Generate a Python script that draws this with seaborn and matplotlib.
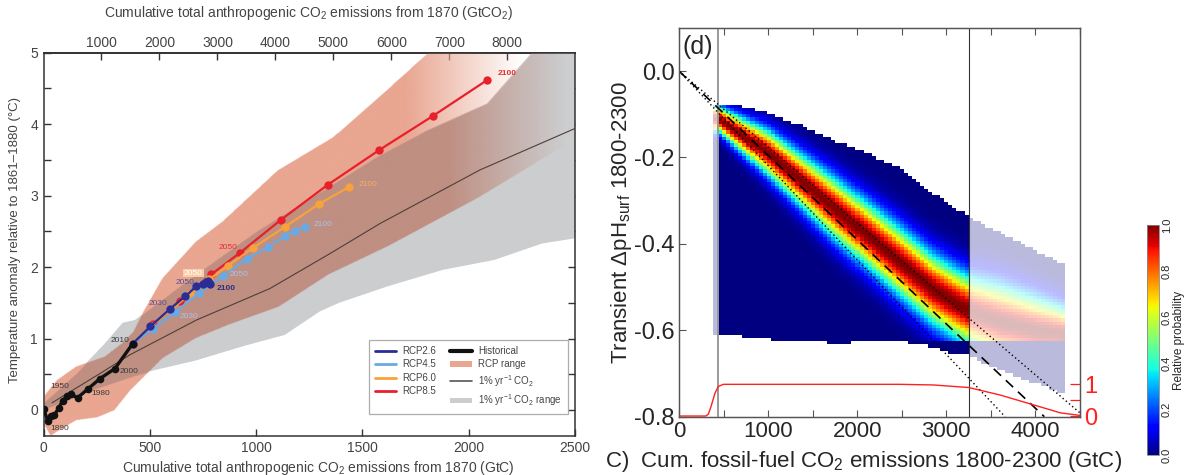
import numpy as np
import matplotlib
matplotlib.use("Agg")
import matplotlib.pyplot as plt
import seaborn as sns
from matplotlib.path import Path
from matplotlib.lines import Line2D
from matplotlib.patches import Patch
from matplotlib.colors import to_rgb, Normalize
from matplotlib import ticker

# ======================= DATA =======================
# ---- left panel: warming vs cumulative emissions (GtC, degC)
HIST_X = [0, 20, 36, 51, 72, 90, 111, 129, 160, 207, 266, 336, 420]
HIST_Y = [0.02, -0.15, -0.08, -0.07, 0.03, 0.13, 0.19, 0.22, 0.17, 0.29, 0.44, 0.58, 0.93]
RCP26_X = [420, 503, 597, 667, 718, 748, 762, 772, 779, 783]
RCP26_Y = [0.93, 1.17, 1.42, 1.59, 1.73, 1.77, 1.79, 1.80, 1.78, 1.76]
RCP45_X = [420, 514, 620, 732, 846, 955, 1056, 1134, 1181, 1228]
RCP45_Y = [0.93, 1.14, 1.37, 1.64, 1.88, 2.11, 2.28, 2.43, 2.51, 2.56]
RCP60_X = [420, 505, 600, 690, 780, 869, 986, 1134, 1294, 1436]
RCP60_Y = [0.93, 1.17, 1.41, 1.62, 1.83, 2.02, 2.27, 2.56, 2.88, 3.12]
RCP85_X = [420, 515, 640, 790, 924, 1116, 1336, 1580, 1834, 2088]
RCP85_Y = [0.93, 1.20, 1.52, 1.90, 2.20, 2.66, 3.15, 3.64, 4.12, 4.62]
ONEPCT_X = [40, 150, 260, 405, 720, 1065, 1348, 1583, 2053, 2500]
ONEPCT_Y = [0.10, 0.30, 0.50, 0.77, 1.26, 1.70, 2.19, 2.61, 3.36, 3.94]
RCPR_UP_X = [0, 60, 150, 285, 372, 420, 470, 557, 713, 838, 1099, 1358, 1570, 1804, 2600]
RCPR_UP_Y = [0.20, 0.42, 0.61, 0.75, 0.95, 1.10, 1.40, 1.85, 2.36, 2.64, 3.36, 3.82, 4.37, 5.00, 6.00]
RCPR_LO_X = [0, 30, 60, 150, 250, 330, 402, 449, 557, 713, 869, 1103, 1336, 1618, 2037, 2271, 2396, 2600]
RCPR_LO_Y = [-0.20, -0.36, -0.30, -0.14, -0.10, 0.00, 0.27, 0.41, 0.73, 1.01, 1.20, 1.45, 1.90, 2.30, 2.97, 3.39, 3.62, 3.90]
GRAY_UP_X = [0, 150, 285, 372, 430, 671, 1000, 1300, 1570, 1804, 2085, 2287, 2600]
GRAY_UP_Y = [0.10, 0.50, 0.92, 1.22, 1.26, 1.80, 2.50, 3.05, 3.55, 3.92, 4.29, 4.97, 6.00]
GRAY_LO_X = [0, 200, 400, 511, 713, 947, 1134, 1300, 1390, 1618, 1877, 2120, 2345, 2600]
GRAY_LO_Y = [0.00, 0.25, 0.45, 0.55, 0.69, 0.90, 1.05, 1.38, 1.50, 1.73, 1.96, 2.10, 2.33, 2.45]
GTCO2_PER_GTC = 3.667
TOP_TICKS = [1000, 2000, 3000, 4000, 5000, 6000, 7000, 8000]
FADE_SALMON = (1700, 2250)     # RCP range fades out between these emissions
FADE_BROWN = (1900, 2450)

# ---- right panel: transient surface pH change
RIDGE_X = [440, 1000, 1730, 2500, 2850, 3250]
RIDGE_Y = [-0.11, -0.19, -0.315, -0.445, -0.505, -0.555]
SIGMA_Y = [0.020, 0.035, 0.047, 0.053, 0.054, 0.054]
TOPENV_X = [440, 720, 1000, 1360, 1730, 2100, 2480, 2850, 3250]
TOPENV_Y = [-0.081, -0.081, -0.098, -0.125, -0.160, -0.190, -0.225, -0.283, -0.337]
BOTENV_X = [440, 720, 1170, 1770, 2370, 2630, 2850, 3040, 3250]
BOTENV_Y = [-0.607, -0.614, -0.624, -0.630, -0.626, -0.630, -0.638, -0.653, -0.653]
FAINT_X = [3250, 3600, 4000, 4330]
FAINT_RIDGE = [-0.555, -0.580, -0.600, -0.610]
FAINT_SIGMA = [0.054, 0.058, 0.052, 0.042]
FAINT_TOP = [-0.340, -0.375, -0.415, -0.450]
FAINT_BOT = [-0.660, -0.692, -0.723, -0.750]
STRIP_RANGE = (378, 440)
MAIN_RANGE = (440, 3250)
FAINT_RANGE = (3250, 4330)
PH_FLOOR = -0.627
DASH_X, DASH_Y = [0, 4100], [0.0, -0.8]
DOT1_X, DOT1_Y = [0, 4550], [0.0, -0.8]
DOT2_X, DOT2_Y = [0, 3660], [0.0, -0.8]
VLINE_X = [440, 3250]
RED_X = [0, 300, 330, 360, 404, 441, 497, 1000, 2000, 2480, 2854, 3250, 3608, 3982, 4281, 4500]
RED_Y = [0, 0, 0.06, 0.30, 0.72, 0.93, 1.0, 1.0, 1.0, 1.0, 0.98, 0.90, 0.66, 0.35, 0.10, 0.02]
RX_TICKS = [0, 1000, 2000, 3000, 4000]
RY_TICKS = [0.0, -0.2, -0.4, -0.6, -0.8]
CB_TICKS = [0.0, 0.2, 0.4, 0.6, 0.8, 1.0]

# ======================= STYLE =======================
sns.set_theme(style="white")
plt.rcParams["font.family"] = ["Liberation Sans", "DejaVu Sans"]
plt.rcParams["mathtext.fontset"] = "custom"
plt.rcParams["mathtext.rm"] = "Liberation Sans"
plt.rcParams["mathtext.it"] = "Liberation Sans:italic"
plt.rcParams["mathtext.bf"] = "Liberation Sans:bold"

C26, C45, C60, C85 = "#2c2c96", "#6aaae4", "#f7a23c", "#e8202a"
SALMON, BROWN, GRAY = "#e9a691", "#bf8f82", "#cccdcf"
TXT = "#444444"

fig = plt.figure(figsize=(11.92, 4.75), dpi=100)

# ======================= LEFT PANEL =======================
axL = fig.add_axes([0.0365, 0.0827, 0.4459, 0.8063])
gray_poly = np.column_stack([np.r_[GRAY_UP_X, GRAY_LO_X[::-1]], np.r_[GRAY_UP_Y, GRAY_LO_Y[::-1]]])
rcp_poly = np.column_stack([np.r_[RCPR_UP_X, RCPR_LO_X[::-1]], np.r_[RCPR_UP_Y, RCPR_LO_Y[::-1]]])
axL.fill(gray_poly[:, 0], gray_poly[:, 1], color=GRAY, lw=0, zorder=1)

XL0, XL1, YL0, YL1 = 0, 2500, -0.36, 5.0
gx = np.linspace(XL0, XL1, 1100)
gy = np.linspace(YL0, YL1, 900)
XX, YY = np.meshgrid(gx, gy)
pts = np.column_stack([XX.ravel(), YY.ravel()])
in_rcp = Path(rcp_poly).contains_points(pts).reshape(XX.shape)
in_gray = Path(gray_poly).contains_points(pts).reshape(XX.shape)
rgba = np.zeros(XX.shape + (4,))
rgba[..., :3] = np.where(in_gray[..., None], np.array(to_rgb(BROWN)), np.array(to_rgb(SALMON)))
a_s = np.clip((FADE_SALMON[1] - XX) / (FADE_SALMON[1] - FADE_SALMON[0]), 0, 1)
a_b = np.clip((FADE_BROWN[1] - XX) / (FADE_BROWN[1] - FADE_BROWN[0]), 0, 1)
rgba[..., 3] = np.where(in_rcp, np.where(in_gray, a_b, a_s), 0.0)
axL.imshow(rgba, extent=[XL0, XL1, YL0, YL1], origin="lower", aspect="auto",
           interpolation="bilinear", zorder=2)

sns.lineplot(x=ONEPCT_X, y=ONEPCT_Y, ax=axL, color="#4d3f3a", lw=0.8, sort=False,
             estimator=None, zorder=3)
for xs, ys, col, z in [(RCP85_X, RCP85_Y, C85, 4), (RCP60_X, RCP60_Y, C60, 5),
                       (RCP45_X, RCP45_Y, C45, 6), (RCP26_X, RCP26_Y, C26, 7)]:
    sns.lineplot(x=xs, y=ys, ax=axL, color=col, lw=1.6, marker="o", markersize=6,
                 markeredgewidth=0, sort=False, estimator=None, zorder=z)
sns.lineplot(x=HIST_X, y=HIST_Y, ax=axL, color="#111111", lw=2.4, marker="o", markersize=5.5,
             markeredgewidth=0, sort=False, estimator=None, zorder=8)


def tag(x, y, s, dx, dy, color, weight="normal", box=None):
    axL.annotate(s, xy=(x, y), xytext=(dx * 0.72, -dy * 0.72), textcoords="offset points",
                 ha="center", va="center", fontsize=6, color=color, fontweight=weight,
                 bbox=box, zorder=9)


HC = "#3a3a3a"
tag(HIST_X[1], HIST_Y[1], "1890", 11.7, 7.6, HC)
tag(HIST_X[5], HIST_Y[5], "1950", -3.1, -14.7, HC)
tag(HIST_X[9], HIST_Y[9], "1980", 13, 4.7, HC)
tag(HIST_X[11], HIST_Y[11], "2000", 14, 3.4, HC)
tag(HIST_X[12], HIST_Y[12], "2010", -12.8, -3, HC)
tag(RCP26_X[2], RCP26_Y[2], "2030", -12.4, -5.5, "#5b4f8f")
tag(RCP26_X[4], RCP26_Y[4], "2050", -11.6, -3.4, "#5b4f8f")
tag(RCP26_X[-1], RCP26_Y[-1], "2100", 16, 3.8, "#2f2f7f", "bold")
tag(RCP45_X[2], RCP45_Y[2], "2030", 13.7, 3.9, "#a9c4ea")
tag(RCP45_X[4], RCP45_Y[4], "2050", 15.6, -0.7, "#a9c4ea")
tag(RCP45_X[-1], RCP45_Y[-1], "2100", 18.4, -2.2, "#a9c4ea")
tag(RCP60_X[4], RCP60_Y[4], "2050", -16, -6.2, "white",
    box=dict(boxstyle="square,pad=0.1", fc="#f9cfa8", ec="none"))
tag(RCP60_X[-1], RCP60_Y[-1], "2100", 19, -2.8, "#f5b060")
tag(RCP85_X[4], RCP85_Y[4], "2050", -12.4, -5.1, "#e03030")
tag(RCP85_X[-1], RCP85_Y[-1], "2100", 20, -6.6, "#e03030", "bold")

axL.set_xlim(XL0, XL1)
axL.set_ylim(YL0, YL1)
axL.set_xlabel("")
axL.set_ylabel("")
axL.xaxis.set_major_locator(ticker.MultipleLocator(500))
axL.yaxis.set_major_locator(ticker.MultipleLocator(0.5))
axL.yaxis.set_major_formatter(ticker.FuncFormatter(
    lambda v, p: f"{v:.0f}" if abs(v - round(v)) < 1e-6 else ""))
axL.tick_params(direction="in", length=5, width=1, color="#333333", labelcolor=TXT,
                labelsize=10, right=True, left=True, bottom=True, top=False, pad=4)
for sp in axL.spines.values():
    sp.set_color("#333333")
    sp.set_linewidth(1.1)
sec = axL.secondary_xaxis("top", functions=(lambda x: x * GTCO2_PER_GTC,
                                             lambda x: x / GTCO2_PER_GTC))
sec.set_xticks(TOP_TICKS)
sec.tick_params(direction="in", length=5, width=1, color="#333333", labelcolor=TXT,
                labelsize=10, pad=2)

hand = [Line2D([], [], color=C26, lw=2), Line2D([], [], color=C45, lw=2),
        Line2D([], [], color=C60, lw=2), Line2D([], [], color=C85, lw=2),
        Line2D([], [], color="#111111", lw=3), Patch(fc=SALMON, ec="none"),
        Line2D([], [], color="#555555", lw=1.2), Patch(fc=GRAY, ec="none")]
labs = ["RCP2.6", "RCP4.5", "RCP6.0", "RCP8.5", "Historical", "RCP range",
        "1% yr$^{-1}$ CO$_2$", "1% yr$^{-1}$ CO$_2$ range"]
leg = axL.legend(hand, labs, ncol=2, loc="lower right", bbox_to_anchor=(0.996, 0.045),
                 fontsize=7, frameon=True, fancybox=False, edgecolor="#999999",
                 handlelength=2.2, columnspacing=1.4, borderpad=0.6, labelspacing=0.35,
                 handleheight=0.5, handletextpad=0.7)
leg.get_frame().set_linewidth(0.9)
for t in leg.get_texts():
    t.set_color(TXT)

fig.text(309 / 1192, 1 - 13 / 475,
         "Cumulative total anthropogenic CO$_2$ emissions from 1870 (GtCO$_2$)",
         ha="center", va="center", fontsize=10, color=TXT)
fig.text(318 / 1192, 1 - 468 / 475,
         "Cumulative total anthropogenic CO$_2$ emissions from 1870 (GtC)",
         ha="center", va="center", fontsize=10, color=TXT)
fig.text(15 / 1192, 1 - 240 / 475, "Temperature anomaly relative to 1861\u20131880 (\u00b0C)",
         ha="center", va="center", rotation=90, fontsize=9.5, color=TXT)

# ======================= RIGHT PANEL =======================
axR = fig.add_axes([0.5696, 0.1228, 0.3364, 0.8177])
ye = np.linspace(-0.76, -0.07, 93)
yc = 0.5 * (ye[1:] + ye[:-1])


def density(xe, kx, ridge, sig, tx, ty, bx, by):
    xc = 0.5 * (xe[1:] + xe[:-1])
    r = np.interp(xc, kx, ridge)
    s = np.interp(xc, kx, sig)
    t = np.interp(xc, tx, ty)
    b = np.interp(xc, bx, by)
    v = np.exp(-0.5 * ((yc[:, None] - r[None, :]) / s[None, :]) ** 2)
    v = np.where(yc[:, None] < PH_FLOOR, 0.0, v)
    mask = (yc[:, None] > t[None, :]) | (yc[:, None] < b[None, :])
    return np.ma.masked_where(mask, v)


xe_main = np.linspace(MAIN_RANGE[0], MAIN_RANGE[1], 63)
xe_strip = np.linspace(STRIP_RANGE[0], STRIP_RANGE[1], 3)
xe_faint = np.linspace(FAINT_RANGE[0], FAINT_RANGE[1], 25)
V_main = density(xe_main, RIDGE_X, RIDGE_Y, SIGMA_Y, TOPENV_X, TOPENV_Y, BOTENV_X, BOTENV_Y)
V_strip = density(xe_strip, RIDGE_X, RIDGE_Y, SIGMA_Y, TOPENV_X, TOPENV_Y, BOTENV_X, BOTENV_Y)
V_faint = density(xe_faint, FAINT_X, FAINT_RIDGE, FAINT_SIGMA, FAINT_X, FAINT_TOP, FAINT_X, FAINT_BOT)
axR.pcolormesh(xe_strip, ye, V_strip, cmap="jet", vmin=0, vmax=1, alpha=0.27, zorder=1,
               edgecolors="none")
axR.pcolormesh(xe_faint, ye, V_faint, cmap="jet", vmin=0, vmax=1, alpha=0.27, zorder=1,
               edgecolors="none")
axR.pcolormesh(xe_main, ye, V_main, cmap="jet", vmin=0, vmax=1, zorder=2, edgecolors="none")

axR.axvline(VLINE_X[0], color="#9a9a9a", lw=1.4, zorder=3)
axR.axvline(VLINE_X[1], color="#333333", lw=0.8, zorder=3)
sns.lineplot(x=DOT1_X, y=DOT1_Y, ax=axR, color="black", lw=1.0, linestyle=(0, (1, 2)),
             sort=False, estimator=None, zorder=4)
sns.lineplot(x=DOT2_X, y=DOT2_Y, ax=axR, color="black", lw=1.0, linestyle=(0, (1, 2)),
             sort=False, estimator=None, zorder=4)
sns.lineplot(x=DASH_X, y=DASH_Y, ax=axR, color="black", lw=1.2, linestyle=(0, (6, 4)),
             sort=False, estimator=None, zorder=4)
axR.set_xlim(0, 4500)
axR.set_ylim(-0.8, 0.099)
axR.set_xlabel("")
axR.set_ylabel("")
axR.set_xticks(RX_TICKS)
axR.xaxis.set_minor_locator(ticker.MultipleLocator(500))
axR.set_yticks(RY_TICKS)
axR.yaxis.set_major_formatter(ticker.FuncFormatter(lambda v, p: f"{v:.1f}".replace("\u2212", "-")))
axR.tick_params(axis="x", which="major", direction="in", length=5, width=0.8, color="#555555",
                labelsize=16, top=True, bottom=True, pad=3)
axR.tick_params(axis="x", which="minor", direction="in", length=5, width=0.8, color="#555555",
                top=True, bottom=True)
axR.tick_params(axis="y", direction="in", length=5, width=0.8, color="#555555",
                labelsize=17, left=True, right=True, pad=3)
for sp in axR.spines.values():
    sp.set_color("#555555")
    sp.set_linewidth(0.9)

ax2 = axR.twinx()
sns.lineplot(x=RED_X, y=RED_Y, ax=ax2, color="#ff2020", lw=1.0, sort=False, estimator=None)
ax2.set_ylim(-0.02, 12.23)
ax2.set_ylabel("")
ax2.set_yticks([0, 0.5, 1])
ax2.set_yticklabels(["0", "", "1"])
ax2.tick_params(axis="y", direction="in", length=7, width=0.9, color="#ff2020",
                labelcolor="#ff2020", labelsize=17, pad=3)
for sp in ax2.spines.values():
    sp.set_color("#555555")
    sp.set_linewidth(0.9)

fig.text(683 / 1192, 1 - 47 / 475, "(d)", ha="left", va="center", fontsize=18)
fig.text(864 / 1192, 1 - 461 / 475, "C)  Cum. fossil-fuel CO$_2$ emissions 1800-2300 (GtC)",
         ha="center", va="center", fontsize=16)
fig.text(622 / 1192, 1 - 223 / 475, "Transient \u0394pH$_{\\mathrm{surf}}$ 1800-2300",
         ha="center", va="center", rotation=90, fontsize=16)

# ======================= COLORBAR =======================
cax = fig.add_axes([0.9623, 0.0421, 0.0101, 0.4842])
sm = matplotlib.cm.ScalarMappable(norm=Normalize(0, 1), cmap="jet")
cb = fig.colorbar(sm, cax=cax, ticks=CB_TICKS)
cb.ax.yaxis.set_major_formatter(ticker.FormatStrFormatter("%.1f"))
cb.ax.tick_params(labelsize=8, length=0, pad=2)
for t in cb.ax.get_yticklabels():
    t.set_rotation(90)
    t.set_va("center")
cb.set_label("Relative probability", fontsize=8.5, labelpad=1)
cb.outline.set_edgecolor("#888888")
cb.outline.set_linewidth(0.6)

fig.savefig("out.png", dpi=100)
